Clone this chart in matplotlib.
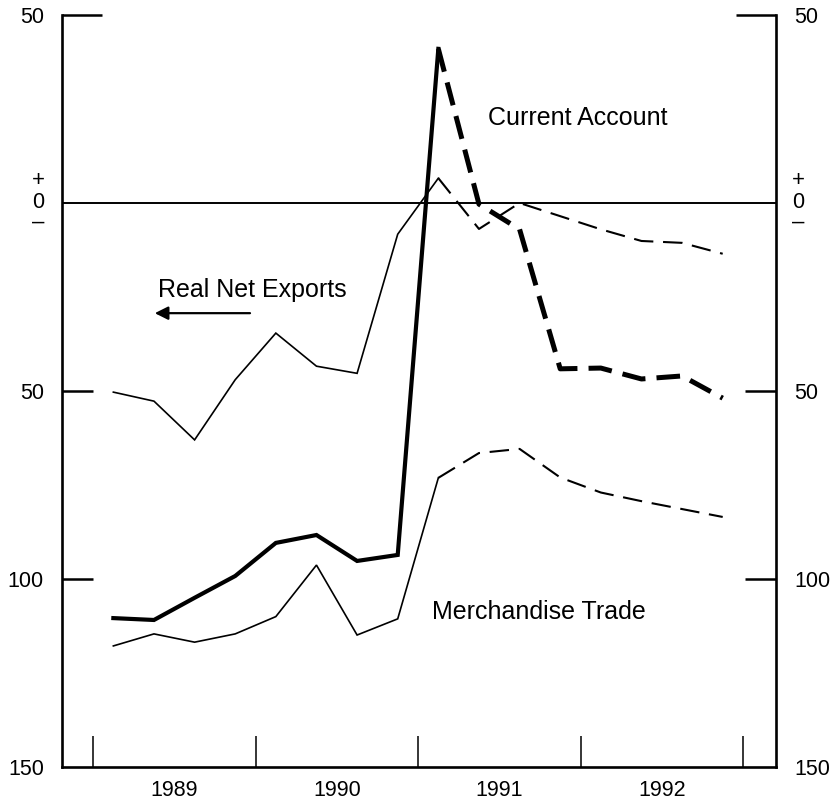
import numpy as np
import matplotlib
matplotlib.use('Agg')
import matplotlib.pyplot as plt

plt.rcParams['font.family'] = ['Liberation Sans', 'DejaVu Sans']
plt.rcParams['lines.scale_dashes'] = False

# quarters 1989Q1 .. 1992Q4
years = np.repeat([1989, 1990, 1991, 1992], 4)
qtrs = np.tile([1, 2, 3, 4], 4)
xq = years + (qtrs - 0.5) / 4.0
N_ACT = 9  # 1989Q1 .. 1991Q1 actual, rest projected

# billions (sign: + surplus, - deficit)
real_net_exports = [-50.3, -52.7, -63.0, -47.0, -34.6, -43.4, -45.3, -8.3, 6.6,
                    -6.9, 0.0, -3.5, -7.0, -10.1, -10.6, -13.5]
current_account = [-110.4, -110.9, -105.0, -99.2, -90.4, -88.3, -95.2, -93.6, 41.0,
                   -0.3, -7.0, -44.1, -43.9, -46.8, -46.0, -51.9]
merchandise_trade = [-117.8, -114.6, -116.8, -114.6, -110.0, -96.3, -114.9, -110.6, -73.1,
                     -66.5, -65.4, -73.0, -77.0, -79.3, -81.4, -83.5]

year_labels = ['1989', '1990', '1991', '1992']
ytick_vals = [50, 0, -50, -100, -150]
ytick_text = ['50', '', '50', '100', '150']

black = '#000000'

fig = plt.figure(figsize=(8.33, 8.01), dpi=100)
ax = fig.add_axes([62 / 833, 34 / 801, 714 / 833, 752 / 801])

ax.set_xlim(1988.809, 1993.203)
ax.set_ylim(-150, 50)

ax.axhline(0, color=black, linewidth=1.4, zorder=1)

rne = np.asarray(real_net_exports)
ca = np.asarray(current_account)
mt = np.asarray(merchandise_trade)

# actual
ax.plot(xq[:N_ACT], rne[:N_ACT], color=black, linewidth=1.2, solid_joinstyle='miter')
ax.plot(xq[:N_ACT], ca[:N_ACT], color=black, linewidth=3.0, solid_joinstyle='miter')
ax.plot(xq[:N_ACT], mt[:N_ACT], color=black, linewidth=1.2, solid_joinstyle='miter')
# projected
ax.plot(xq[N_ACT - 1:], rne[N_ACT - 1:], color=black, linewidth=1.5, linestyle=(0, (14, 7)))
ax.plot(xq[N_ACT - 1:], ca[N_ACT - 1:], color=black, linewidth=3.6, linestyle=(0, (17, 8)))
ax.plot(xq[N_ACT - 1:], mt[N_ACT - 1:], color=black, linewidth=1.5, linestyle=(0, (14, 7)))

# labels
ax.text(1991.43, 22.6, 'Current Account', fontsize=18, va='center', ha='left')
ax.text(1991.086, -108.8, 'Merchandise Trade', fontsize=18, va='center', ha='left')
ax.text(1989.40, -23.1, 'Real Net Exports', fontsize=18, va='center', ha='left')
ax.annotate('', xy=(1989.38, -29.3), xytext=(1989.966, -29.3),
            arrowprops=dict(arrowstyle='-|>', color=black, lw=1.6,
                            mutation_scale=20, shrinkA=0, shrinkB=0))

# spines
ax.spines['top'].set_visible(False)
for s in ['left', 'right', 'bottom']:
    ax.spines[s].set_linewidth(1.9)

# x axis: year boundaries as ticks, year names in between
ax.set_xticks([1989, 1990, 1991, 1992, 1993])
ax.set_xticklabels([])
ax.tick_params(axis='x', which='major', direction='in', length=22, width=1.1)
ax.set_xticks([1989.5, 1990.5, 1991.5, 1992.5], minor=True)
ax.set_xticklabels(year_labels, minor=True)
ax.tick_params(axis='x', which='minor', length=0, pad=9, labelsize=15.5)

# y axis on both sides
ax.set_yticks(ytick_vals)
ax.set_yticklabels(ytick_text)
ax.tick_params(axis='y', which='major', direction='in', length=22, width=1.8,
               left=True, right=True, labelleft=True, labelright=True,
               pad=13, labelsize=15.5)
for v, t in zip(ytick_vals, ax.yaxis.get_major_ticks()):
    if v == 50:
        t.tick1line.set_markersize(29)
        t.tick2line.set_markersize(29)
    elif v in (0, -150):
        t.tick1line.set_markersize(0)
        t.tick2line.set_markersize(0)

# "+ 0 -" label at the zero line, both sides
for xa, dx in [(0, -17), (1, 16)]:
    for s, dy, fs in [('+', 16, 16), ('0', 0, 15.5), ('\u2013', -14, 16)]:
        ax.annotate(s, xy=(xa, 0), xycoords=('axes fraction', 'data'),
                    xytext=(dx, dy), textcoords='offset points',
                    ha='center', va='center', fontsize=fs)

fig.savefig('out.png', dpi=100)
